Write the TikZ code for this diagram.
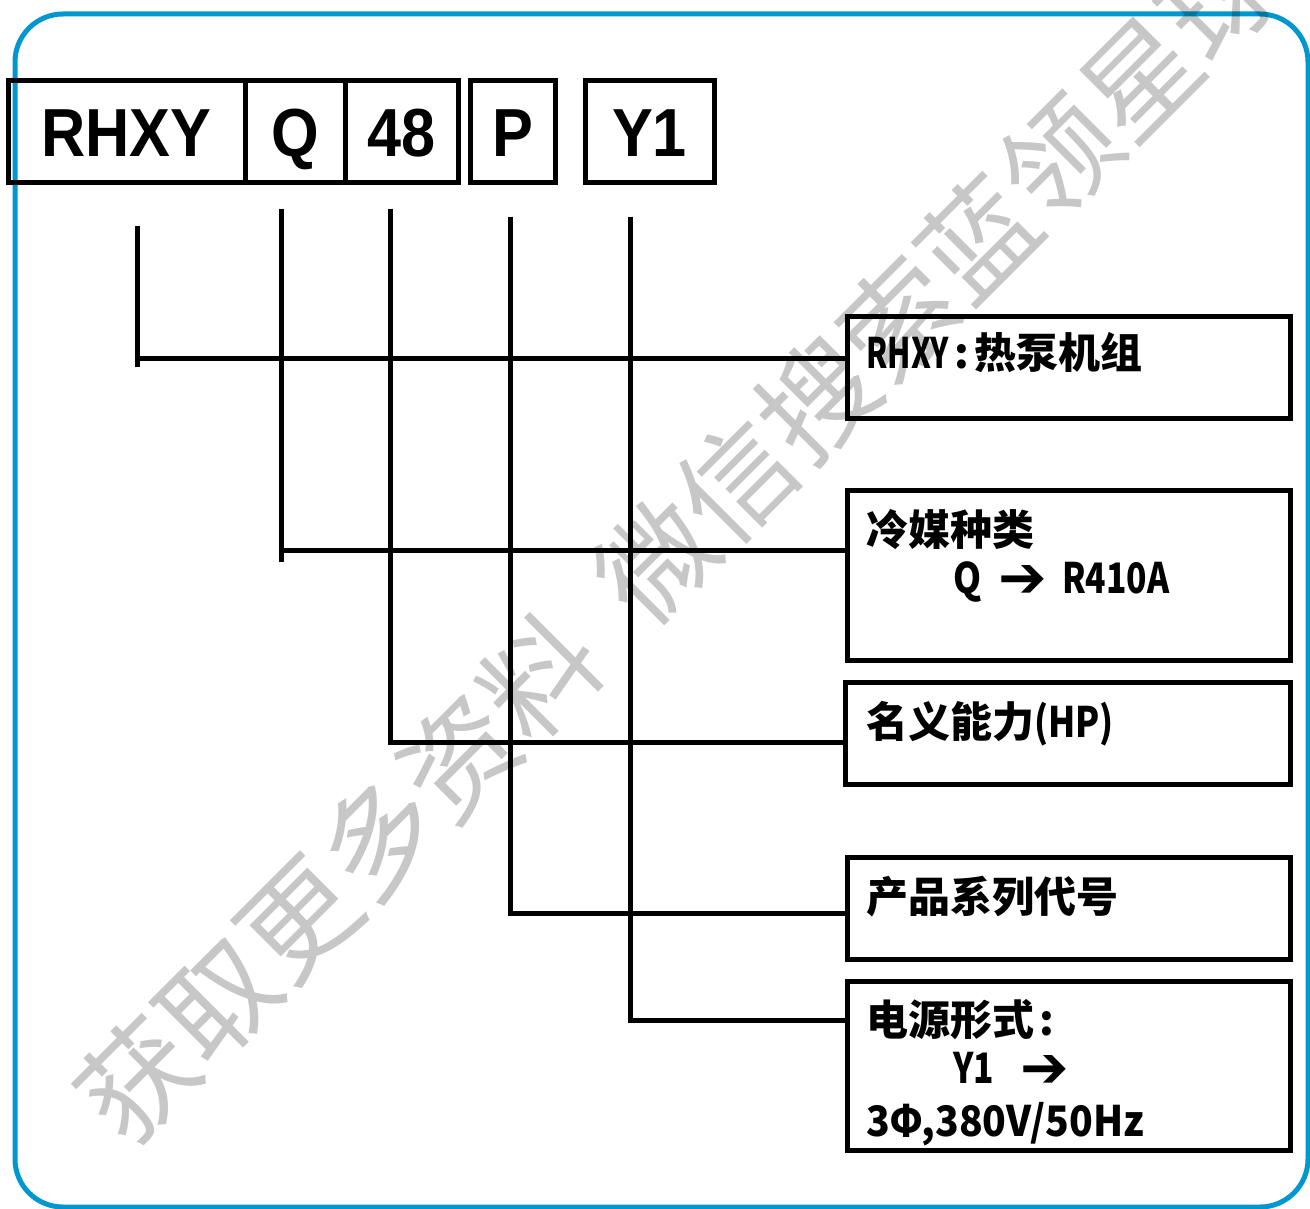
\documentclass[tikz,border=0pt]{standalone}
\usepackage{graphicx}
\usepackage{fontspec}
\setmainfont{Liberation Sans}
\newfontfamily\hdr{Liberation Sans}[FakeStretch=0.9]
\newfontfamily\cjk{Noto Sans CJK SC}
\newfontfamily\arr{DejaVu Sans}
\newcommand{\nar}[2]{\scalebox{#1}[1]{#2}}
\newcommand{\barrow}{\raisebox{-4pt}{\arr\fontsize{58}{58}\selectfont ➔}}
\definecolor{frameblue}{RGB}{0,150,206}
\begin{document}
\begin{tikzpicture}[x=1pt,y=-1pt,
  topbox/.style={draw=black,line width=5pt,minimum height=102pt,inner sep=0pt,
    text height=49pt,text depth=0pt,font=\hdr\bfseries\fontsize{68}{68}\selectfont},
  infobox/.style={draw=black,line width=5pt,inner sep=0pt,minimum width=443pt},
  lbl/.style={anchor=base west,inner sep=0pt,font=\cjk\bfseries\fontsize{42}{42}\selectfont},
  conn/.style={line width=5pt,line join=miter}]
\useasboundingbox (0,0) rectangle (1310,1209);
\draw[frameblue,line width=5pt,rounded corners=48pt] (15,14) rectangle (1308,1207);

% code boxes
\node[topbox,minimum width=237pt] (r) at (126.5,132) {RHXY};
\node[topbox,minimum width=100pt] (q) at (295,132) {Q};
\node[topbox,minimum width=113pt] (n48) at (401.5,132) {48};
\node[topbox,minimum width=85pt] (p) at (512.5,132) {P};
\node[topbox,minimum width=129pt] (y1) at (649.5,132) {Y1};

% info boxes
\node[infobox,minimum height=102pt] (b1) at (1068.5,367) {};
\node[infobox,minimum height=170pt] (b2) at (1068.5,575) {};
\node[infobox,minimum width=445pt,minimum height=102pt] (b3) at (1067.5,733) {};
\node[infobox,minimum height=102pt] (b4) at (1068.5,908) {};
\node[infobox,minimum height=169pt] (b5) at (1068.5,1065.5) {};

% labels
\node[lbl] (l1) at (866,368) {\nar{0.72}{RHXY}\makebox[25pt]{:}热泵机组};
\node[lbl] (l2a) at (866,545) {冷媒种类};
\node[lbl] (l2b) at (953,593) {\makebox[45pt][l]{\nar{0.85}{Q}}\makebox[64pt][l]{\barrow}\nar{0.8}{R410A}};
\node[lbl] (l3) at (866,737) {名义能力\nar{0.84}{(HP)}};
\node[lbl] (l4) at (866,912) {产品系列代号};
\node[lbl] (l5a) at (866,1035) {电源形式\makebox[25pt]{:}};
\node[lbl] (l5b) at (953,1083) {\makebox[67pt][l]{\nar{0.8}{Y1}}\barrow};
\node[lbl] (l5c) at (866,1136) {\nar{0.93}{3Φ,380V/50Hz}};

% connectors
\coordinate (v1) at (137,226); \coordinate (e1) at (137,367); \coordinate (h1) at (137,358);
\coordinate (v2) at (281,209); \coordinate (e2) at (281,562); \coordinate (h2) at (281,550);
\coordinate (v3) at (390,209); \coordinate (h3) at (390,742);
\coordinate (v4) at (510,217); \coordinate (h4) at (510,913);
\coordinate (v5) at (630,217); \coordinate (h5) at (630,1020);
\draw[conn] (v1) -- (e1);
\draw[conn] (h1) -- (h1 -| b1.west);
\draw[conn] (v2) -- (e2);
\draw[conn] (h2) -- (h2 -| b2.west);
\draw[conn] (v3) |- (h3 -| b3.west);
\draw[conn] (v4) |- (h4 -| b4.west);
\draw[conn] (v5) |- (h5 -| b5.west);

% watermark
\node[rotate=45,anchor=west,inner sep=0pt,text=black,text opacity=0.22,
  font=\cjk\fontsize{114}{114}\selectfont] (wm) at (96.7,1120.3)
  {获取更多资料\hspace{50pt}微信搜索蓝领星球};
\end{tikzpicture}
\end{document}
